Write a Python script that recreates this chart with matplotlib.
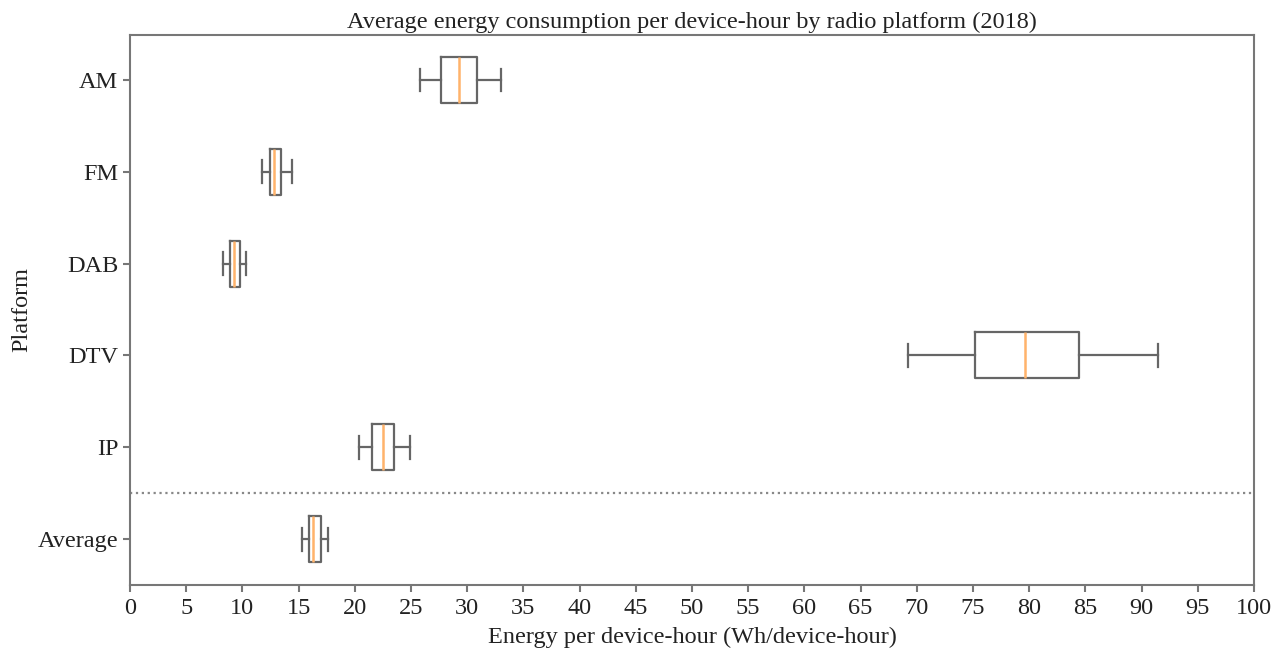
import matplotlib.pyplot as plt

plt.rcParams['font.family'] = ['Liberation Serif', 'DejaVu Serif']

platforms = ["AM", "FM", "DAB", "DTV", "IP", "Average"]
whisker_lo = [25.8, 11.7, 8.25, 69.2, 20.4, 15.3]
q1 = [27.7, 12.45, 8.9, 75.2, 21.5, 15.9]
median = [29.3, 12.8, 9.27, 79.6, 22.5, 16.3]
q3 = [30.9, 13.4, 9.8, 84.4, 23.5, 17.0]
whisker_hi = [33.0, 14.4, 10.3, 91.5, 24.9, 17.6]

stats = []
for i, name in enumerate(platforms):
    stats.append({"label": name, "whislo": whisker_lo[i], "q1": q1[i], "med": median[i],
                  "q3": q3[i], "whishi": whisker_hi[i], "fliers": []})

fig = plt.figure(figsize=(12.87, 6.49), dpi=100)
ax = fig.add_axes([130 / 1287, 1 - 585 / 649, 1124 / 1287, 550 / 649])

line_c = "#666666"
ax.bxp(stats, positions=range(len(platforms)), vert=False, widths=0.5,
       boxprops=dict(color=line_c, linewidth=1.6),
       whiskerprops=dict(color=line_c, linewidth=1.6),
       capprops=dict(color=line_c, linewidth=1.6),
       medianprops=dict(color="#ffb36b", linewidth=1.8))

# separator between platforms and the overall average
ax.axhline(4.5, color="#888888", linestyle=":", linewidth=1.6)

ax.set_ylim(5.5, -0.49)
ax.set_xlim(0, 100)
ax.set_xticks(range(0, 101, 5))
ax.set_yticks(range(len(platforms)))
ax.set_yticklabels(platforms)

fs = 17.5
for sp in ax.spines.values():
    sp.set_color("#777777")
    sp.set_linewidth(1.5)
ax.tick_params(colors="#777777", labelcolor="#222222", labelsize=fs, width=1.5, length=5)
ax.tick_params(axis="x", pad=4)

ax.set_title("Average energy consumption per device-hour by radio platform (2018)",
             fontsize=fs, color="#222222", pad=5)
ax.set_xlabel("Energy per device-hour (Wh/device-hour)", fontsize=fs, color="#222222", labelpad=6)
ax.set_ylabel("Platform", fontsize=fs, color="#222222", labelpad=4)

fig.savefig("out.png", dpi=100)
